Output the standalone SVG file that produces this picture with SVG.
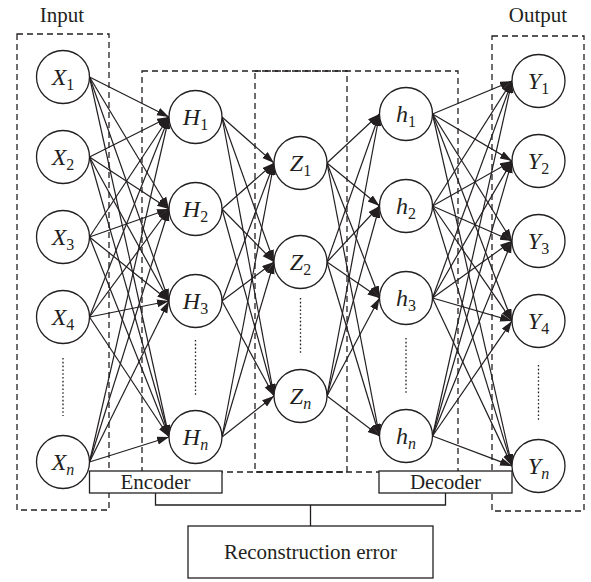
<svg xmlns="http://www.w3.org/2000/svg" width="591" height="582" viewBox="0 0 591 582">
<style>
.dash{fill:none;stroke:#231f20;stroke-width:1.3;stroke-dasharray:6,4}
.dots{fill:none;stroke:#231f20;stroke-width:1.3;stroke-dasharray:1.6,2.2}
.node circle{fill:#fff;stroke:#231f20;stroke-width:1.3}
.lbl{font-family:"Liberation Serif",serif;font-size:24px;fill:#231f20;text-anchor:middle}
.lbl .v{font-style:italic}
.lbl .s{font-size:16px}
.lbl .si{font-size:16px;font-style:italic}
.t{font-family:"Liberation Serif",serif;font-size:21px;fill:#231f20;text-anchor:middle}
.box{fill:#fff;stroke:#231f20;stroke-width:1.3}
#edges line{stroke:#231f20;stroke-width:1.2;marker-end:url(#ah)}
.wire{fill:none;stroke:#231f20;stroke-width:1.3}
</style>
<defs>
<marker id="ah" markerUnits="userSpaceOnUse" markerWidth="13" markerHeight="9" refX="12" refY="4" orient="auto">
<path d="M0,0 L12,4 L0,8 z" fill="#231f20"/>
</marker>
</defs>
<rect width="591" height="582" fill="#fff"/>
<g id="frames">
<rect class="dash" x="17" y="34" width="92" height="476"/>
<rect class="dash" x="492" y="36" width="92" height="475"/>
<rect class="dash" x="142" y="71" width="205" height="401"/>
<rect class="dash" x="255" y="71" width="203" height="401"/>
<text class="t" x="62" y="22">Input</text>
<text class="t" x="538" y="22">Output</text>
</g>
<g id="edges">
<line x1="89.5" y1="77" x2="169" y2="117"/><line x1="89.5" y1="77" x2="169" y2="209"/><line x1="89.5" y1="77" x2="169" y2="301"/><line x1="89.5" y1="77" x2="169" y2="437"/>
<line x1="89.5" y1="157" x2="169" y2="117"/><line x1="89.5" y1="157" x2="169" y2="209"/><line x1="89.5" y1="157" x2="169" y2="301"/><line x1="89.5" y1="157" x2="169" y2="437"/>
<line x1="89.5" y1="237" x2="169" y2="117"/><line x1="89.5" y1="237" x2="169" y2="209"/><line x1="89.5" y1="237" x2="169" y2="301"/><line x1="89.5" y1="237" x2="169" y2="437"/>
<line x1="89.5" y1="317" x2="169" y2="117"/><line x1="89.5" y1="317" x2="169" y2="209"/><line x1="89.5" y1="317" x2="169" y2="301"/><line x1="89.5" y1="317" x2="169" y2="437"/>
<line x1="89.5" y1="462" x2="169" y2="117"/><line x1="89.5" y1="462" x2="169" y2="209"/><line x1="89.5" y1="462" x2="169" y2="301"/><line x1="89.5" y1="462" x2="169" y2="437"/>
<line x1="222" y1="117" x2="274" y2="163"/><line x1="222" y1="117" x2="274" y2="262"/><line x1="222" y1="117" x2="274" y2="396"/>
<line x1="222" y1="209" x2="274" y2="163"/><line x1="222" y1="209" x2="274" y2="262"/><line x1="222" y1="209" x2="274" y2="396"/>
<line x1="222" y1="301" x2="274" y2="163"/><line x1="222" y1="301" x2="274" y2="262"/><line x1="222" y1="301" x2="274" y2="396"/>
<line x1="222" y1="437" x2="274" y2="163"/><line x1="222" y1="437" x2="274" y2="262"/><line x1="222" y1="437" x2="274" y2="396"/>
<line x1="327" y1="163" x2="379.5" y2="114"/><line x1="327" y1="163" x2="379.5" y2="206"/><line x1="327" y1="163" x2="379.5" y2="298"/><line x1="327" y1="163" x2="379.5" y2="436"/>
<line x1="327" y1="262" x2="379.5" y2="114"/><line x1="327" y1="262" x2="379.5" y2="206"/><line x1="327" y1="262" x2="379.5" y2="298"/><line x1="327" y1="262" x2="379.5" y2="436"/>
<line x1="327" y1="396" x2="379.5" y2="114"/><line x1="327" y1="396" x2="379.5" y2="206"/><line x1="327" y1="396" x2="379.5" y2="298"/><line x1="327" y1="396" x2="379.5" y2="436"/>
<line x1="432.5" y1="114" x2="512" y2="81"/><line x1="432.5" y1="114" x2="512" y2="161"/><line x1="432.5" y1="114" x2="512" y2="241"/><line x1="432.5" y1="114" x2="512" y2="321"/><line x1="432.5" y1="114" x2="512" y2="466"/>
<line x1="432.5" y1="206" x2="512" y2="81"/><line x1="432.5" y1="206" x2="512" y2="161"/><line x1="432.5" y1="206" x2="512" y2="241"/><line x1="432.5" y1="206" x2="512" y2="321"/><line x1="432.5" y1="206" x2="512" y2="466"/>
<line x1="432.5" y1="298" x2="512" y2="81"/><line x1="432.5" y1="298" x2="512" y2="161"/><line x1="432.5" y1="298" x2="512" y2="241"/><line x1="432.5" y1="298" x2="512" y2="321"/><line x1="432.5" y1="298" x2="512" y2="466"/>
<line x1="432.5" y1="436" x2="512" y2="81"/><line x1="432.5" y1="436" x2="512" y2="161"/><line x1="432.5" y1="436" x2="512" y2="241"/><line x1="432.5" y1="436" x2="512" y2="321"/><line x1="432.5" y1="436" x2="512" y2="466"/>
</g>
<g id="ellipses">
<line class="dots" x1="63" y1="358" x2="63" y2="416"/>
<line class="dots" x1="195.5" y1="340" x2="195.5" y2="396"/>
<line class="dots" x1="300.5" y1="298" x2="300.5" y2="354"/>
<line class="dots" x1="406" y1="338" x2="406" y2="394"/>
<line class="dots" x1="538.5" y1="365" x2="538.5" y2="422"/>
</g>
<g id="X1" class="node"><circle cx="63" cy="77" r="26.5"/><text class="lbl" x="63" y="85"><tspan class="v">X</tspan><tspan class="s" dy="5">1</tspan></text></g>
<g id="X2" class="node"><circle cx="63" cy="157" r="26.5"/><text class="lbl" x="63" y="165"><tspan class="v">X</tspan><tspan class="s" dy="5">2</tspan></text></g>
<g id="X3" class="node"><circle cx="63" cy="237" r="26.5"/><text class="lbl" x="63" y="245"><tspan class="v">X</tspan><tspan class="s" dy="5">3</tspan></text></g>
<g id="X4" class="node"><circle cx="63" cy="317" r="26.5"/><text class="lbl" x="63" y="325"><tspan class="v">X</tspan><tspan class="s" dy="5">4</tspan></text></g>
<g id="Xn" class="node"><circle cx="63" cy="462" r="26.5"/><text class="lbl" x="63" y="470"><tspan class="v">X</tspan><tspan class="si" dy="5">n</tspan></text></g>
<g id="H1" class="node"><circle cx="195.5" cy="117" r="26.5"/><text class="lbl" x="195.5" y="125"><tspan class="v">H</tspan><tspan class="s" dy="5">1</tspan></text></g>
<g id="H2" class="node"><circle cx="195.5" cy="209" r="26.5"/><text class="lbl" x="195.5" y="217"><tspan class="v">H</tspan><tspan class="s" dy="5">2</tspan></text></g>
<g id="H3" class="node"><circle cx="195.5" cy="301" r="26.5"/><text class="lbl" x="195.5" y="309"><tspan class="v">H</tspan><tspan class="s" dy="5">3</tspan></text></g>
<g id="Hn" class="node"><circle cx="195.5" cy="437" r="26.5"/><text class="lbl" x="195.5" y="445"><tspan class="v">H</tspan><tspan class="si" dy="5">n</tspan></text></g>
<g id="Z1" class="node"><circle cx="300.5" cy="163" r="26.5"/><text class="lbl" x="300.5" y="171"><tspan class="v">Z</tspan><tspan class="s" dy="5">1</tspan></text></g>
<g id="Z2" class="node"><circle cx="300.5" cy="262" r="26.5"/><text class="lbl" x="300.5" y="270"><tspan class="v">Z</tspan><tspan class="s" dy="5">2</tspan></text></g>
<g id="Zn" class="node"><circle cx="300.5" cy="396" r="26.5"/><text class="lbl" x="300.5" y="404"><tspan class="v">Z</tspan><tspan class="si" dy="5">n</tspan></text></g>
<g id="h1" class="node"><circle cx="406" cy="114" r="26.5"/><text class="lbl" x="406" y="122"><tspan class="v">h</tspan><tspan class="s" dy="5">1</tspan></text></g>
<g id="h2" class="node"><circle cx="406" cy="206" r="26.5"/><text class="lbl" x="406" y="214"><tspan class="v">h</tspan><tspan class="s" dy="5">2</tspan></text></g>
<g id="h3" class="node"><circle cx="406" cy="298" r="26.5"/><text class="lbl" x="406" y="306"><tspan class="v">h</tspan><tspan class="s" dy="5">3</tspan></text></g>
<g id="hn" class="node"><circle cx="406" cy="436" r="26.5"/><text class="lbl" x="406" y="444"><tspan class="v">h</tspan><tspan class="si" dy="5">n</tspan></text></g>
<g id="Y1" class="node"><circle cx="538.5" cy="81" r="26.5"/><text class="lbl" x="538.5" y="89"><tspan class="v">Y</tspan><tspan class="s" dy="5">1</tspan></text></g>
<g id="Y2" class="node"><circle cx="538.5" cy="161" r="26.5"/><text class="lbl" x="538.5" y="169"><tspan class="v">Y</tspan><tspan class="s" dy="5">2</tspan></text></g>
<g id="Y3" class="node"><circle cx="538.5" cy="241" r="26.5"/><text class="lbl" x="538.5" y="249"><tspan class="v">Y</tspan><tspan class="s" dy="5">3</tspan></text></g>
<g id="Y4" class="node"><circle cx="538.5" cy="321" r="26.5"/><text class="lbl" x="538.5" y="329"><tspan class="v">Y</tspan><tspan class="s" dy="5">4</tspan></text></g>
<g id="Yn" class="node"><circle cx="538.5" cy="466" r="26.5"/><text class="lbl" x="538.5" y="474"><tspan class="v">Y</tspan><tspan class="si" dy="5">n</tspan></text></g>
<g id="wires">
<polyline class="wire" points="155.5,493 155.5,505 445.5,505 445.5,493"/>
<line class="wire" x1="310.5" y1="505" x2="310.5" y2="526"/>
</g>
<g id="encoder"><rect class="box" x="89.5" y="471" width="132.5" height="22"/><text class="t" x="155.5" y="489">Encoder</text></g>
<g id="decoder"><rect class="box" x="379" y="471" width="133" height="22"/><text class="t" x="445.5" y="489">Decoder</text></g>
<g id="recon"><rect class="box" x="188" y="526" width="245" height="52"/><text class="t" x="310.5" y="559">Reconstruction error</text></g>
</svg>
